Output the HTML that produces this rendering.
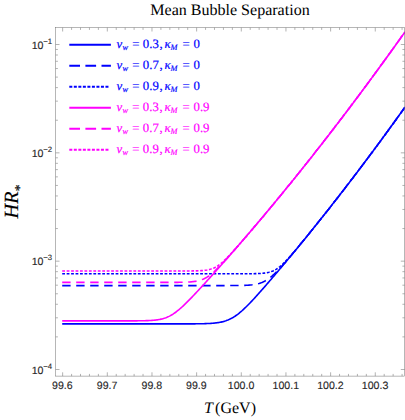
<!DOCTYPE html>
<html><head><meta charset="utf-8"><style>
html,body{margin:0;padding:0;background:#fff;}
svg{display:block}
text{text-rendering:geometricPrecision}
.tk text{font-family:"Liberation Sans",sans-serif;font-size:10.6px;fill:#262626;stroke:#262626;stroke-width:0.12px}
.lg text{font-family:"Liberation Serif",serif;font-size:12.8px;stroke-width:0.18px;paint-order:stroke}
.lg .it{font-style:italic}
.lg .sub{font-size:8.4px}
.ser{font-family:"Liberation Serif",serif;}
</style></head><body>
<svg width="405" height="420" viewBox="0 0 405 420">
<rect width="405" height="420" fill="#fff"/>
<text class="ser" x="230.0" y="14.5" font-size="16.05" text-anchor="middle" fill="#000">Mean Bubble Separation</text>
<clipPath id="c"><rect x="55.7" y="27.7" width="349.3" height="348.40000000000003"/></clipPath>
<g clip-path="url(#c)">
<path d="M62.2 323.90 L63.0 323.90 L64.0 323.90 L65.0 323.90 L66.0 323.90 L67.0 323.90 L68.0 323.90 L69.0 323.90 L70.0 323.90 L71.0 323.90 L72.0 323.90 L73.0 323.90 L74.0 323.90 L75.0 323.90 L76.0 323.90 L77.0 323.90 L78.0 323.90 L79.0 323.90 L80.0 323.90 L81.0 323.90 L82.0 323.90 L83.0 323.90 L84.0 323.90 L85.0 323.90 L86.0 323.90 L87.0 323.90 L88.0 323.90 L89.0 323.90 L90.0 323.90 L91.0 323.90 L92.0 323.90 L93.0 323.90 L94.0 323.90 L95.0 323.90 L96.0 323.90 L97.0 323.90 L98.0 323.90 L99.0 323.90 L100.0 323.90 L101.0 323.90 L102.0 323.90 L103.0 323.90 L104.0 323.90 L105.0 323.90 L106.0 323.90 L107.0 323.90 L108.0 323.90 L109.0 323.90 L110.0 323.90 L111.0 323.90 L112.0 323.90 L113.0 323.90 L114.0 323.90 L115.0 323.90 L116.0 323.90 L117.0 323.90 L118.0 323.90 L119.0 323.90 L120.0 323.90 L121.0 323.90 L122.0 323.90 L123.0 323.90 L124.0 323.90 L125.0 323.90 L126.0 323.90 L127.0 323.90 L128.0 323.90 L129.0 323.90 L130.0 323.90 L131.0 323.90 L132.0 323.90 L133.0 323.90 L134.0 323.90 L135.0 323.90 L136.0 323.90 L137.0 323.90 L138.0 323.90 L139.0 323.90 L140.0 323.90 L141.0 323.90 L142.0 323.90 L143.0 323.90 L144.0 323.90 L145.0 323.90 L146.0 323.90 L147.0 323.90 L148.0 323.90 L149.0 323.90 L150.0 323.90 L151.0 323.90 L152.0 323.90 L153.0 323.90 L154.0 323.90 L155.0 323.90 L156.0 323.90 L157.0 323.90 L158.0 323.90 L159.0 323.90 L160.0 323.90 L161.0 323.90 L162.0 323.90 L163.0 323.90 L164.0 323.90 L165.0 323.90 L166.0 323.90 L167.0 323.90 L168.0 323.90 L169.0 323.90 L170.0 323.90 L171.0 323.90 L172.0 323.90 L173.0 323.90 L174.0 323.89 L175.0 323.89 L176.0 323.89 L177.0 323.89 L178.0 323.89 L179.0 323.89 L180.0 323.89 L181.0 323.89 L182.0 323.89 L183.0 323.88 L184.0 323.88 L185.0 323.88 L186.0 323.88 L187.0 323.87 L188.0 323.87 L189.0 323.87 L190.0 323.86 L191.0 323.86 L192.0 323.85 L193.0 323.84 L194.0 323.84 L195.0 323.83 L196.0 323.82 L197.0 323.81 L198.0 323.79 L199.0 323.78 L200.0 323.76 L201.0 323.75 L202.0 323.73 L203.0 323.70 L204.0 323.68 L205.0 323.65 L206.0 323.61 L207.0 323.57 L208.0 323.53 L209.0 323.48 L210.0 323.43 L211.0 323.37 L212.0 323.30 L213.0 323.22 L214.0 323.13 L215.0 323.03 L216.0 322.91 L217.0 322.78 L218.0 322.64 L219.0 322.48 L220.0 322.30 L221.0 322.10 L222.0 321.88 L223.0 321.64 L224.0 321.37 L225.0 321.07 L226.0 320.74 L227.0 320.37 L228.0 319.98 L229.0 319.55 L230.0 319.09 L231.0 318.59 L232.0 318.05 L233.0 317.48 L234.0 316.86 L235.0 316.22 L236.0 315.53 L237.0 314.81 L238.0 314.06 L239.0 313.27 L240.0 312.45 L241.0 311.60 L242.0 310.73 L243.0 309.82 L244.0 308.90 L245.0 307.95 L246.0 306.98 L247.0 305.99 L248.0 304.99 L249.0 303.97 L250.0 302.93 L251.0 301.89 L252.0 300.83 L253.0 299.75 L254.0 298.67 L255.0 297.59 L256.0 296.49 L257.0 295.38 L258.0 294.27 L259.0 293.15 L260.0 292.03 L261.0 290.90 L262.0 289.77 L263.0 288.63 L264.0 287.49 L265.0 286.35 L266.0 285.20 L267.0 284.05 L268.0 282.89 L269.0 281.74 L270.0 280.58 L271.0 279.41 L272.0 278.25 L273.0 277.08 L274.0 275.91 L275.0 274.74 L276.0 273.56 L277.0 272.39 L278.0 271.21 L279.0 270.03 L280.0 268.84 L281.0 267.66 L282.0 266.47 L283.0 265.28 L284.0 264.09 L285.0 262.90 L286.0 261.71 L287.0 260.51 L288.0 259.31 L289.0 258.11 L290.0 256.91 L291.0 255.71 L292.0 254.50 L293.0 253.30 L294.0 252.09 L295.0 250.88 L296.0 249.67 L297.0 248.45 L298.0 247.24 L299.0 246.02 L300.0 244.80 L301.0 243.58 L302.0 242.36 L303.0 241.13 L304.0 239.91 L305.0 238.68 L306.0 237.45 L307.0 236.22 L308.0 234.98 L309.0 233.75 L310.0 232.51 L311.0 231.27 L312.0 230.03 L313.0 228.79 L314.0 227.55 L315.0 226.30 L316.0 225.06 L317.0 223.81 L318.0 222.56 L319.0 221.30 L320.0 220.05 L321.0 218.80 L322.0 217.54 L323.0 216.28 L324.0 215.02 L325.0 213.75 L326.0 212.49 L327.0 211.22 L328.0 209.96 L329.0 208.69 L330.0 207.42 L331.0 206.14 L332.0 204.87 L333.0 203.59 L334.0 202.31 L335.0 201.03 L336.0 199.75 L337.0 198.47 L338.0 197.18 L339.0 195.90 L340.0 194.61 L341.0 193.32 L342.0 192.02 L343.0 190.73 L344.0 189.44 L345.0 188.14 L346.0 186.84 L347.0 185.54 L348.0 184.24 L349.0 182.93 L350.0 181.62 L351.0 180.32 L352.0 179.01 L353.0 177.70 L354.0 176.38 L355.0 175.07 L356.0 173.75 L357.0 172.43 L358.0 171.11 L359.0 169.79 L360.0 168.47 L361.0 167.14 L362.0 165.82 L363.0 164.49 L364.0 163.16 L365.0 161.83 L366.0 160.49 L367.0 159.16 L368.0 157.82 L369.0 156.48 L370.0 155.14 L371.0 153.80 L372.0 152.45 L373.0 151.11 L374.0 149.76 L375.0 148.41 L376.0 147.06 L377.0 145.71 L378.0 144.35 L379.0 142.99 L380.0 141.64 L381.0 140.28 L382.0 138.92 L383.0 137.55 L384.0 136.19 L385.0 134.82 L386.0 133.45 L387.0 132.08 L388.0 130.71 L389.0 129.34 L390.0 127.96 L391.0 126.58 L392.0 125.20 L393.0 123.82 L394.0 122.44 L395.0 121.06 L396.0 119.67 L397.0 118.28 L398.0 116.89 L399.0 115.50 L400.0 114.11 L401.0 112.72 L402.0 111.32 L403.0 109.92 L404.0 108.52 L405.0 107.12" fill="none" stroke="#0000ff" stroke-width="1.6"/>
<path d="M62.2 285.60 L63.0 285.60 L64.0 285.60 L65.0 285.60 L66.0 285.60 L67.0 285.60 L68.0 285.60 L69.0 285.60 L70.0 285.60 L71.0 285.60 L72.0 285.60 L73.0 285.60 L74.0 285.60 L75.0 285.60 L76.0 285.60 L77.0 285.60 L78.0 285.60 L79.0 285.60 L80.0 285.60 L81.0 285.60 L82.0 285.60 L83.0 285.60 L84.0 285.60 L85.0 285.60 L86.0 285.60 L87.0 285.60 L88.0 285.60 L89.0 285.60 L90.0 285.60 L91.0 285.60 L92.0 285.60 L93.0 285.60 L94.0 285.60 L95.0 285.60 L96.0 285.60 L97.0 285.60 L98.0 285.60 L99.0 285.60 L100.0 285.60 L101.0 285.60 L102.0 285.60 L103.0 285.60 L104.0 285.60 L105.0 285.60 L106.0 285.60 L107.0 285.60 L108.0 285.60 L109.0 285.60 L110.0 285.60 L111.0 285.60 L112.0 285.60 L113.0 285.60 L114.0 285.60 L115.0 285.60 L116.0 285.60 L117.0 285.60 L118.0 285.60 L119.0 285.60 L120.0 285.60 L121.0 285.60 L122.0 285.60 L123.0 285.60 L124.0 285.60 L125.0 285.60 L126.0 285.60 L127.0 285.60 L128.0 285.60 L129.0 285.60 L130.0 285.60 L131.0 285.60 L132.0 285.60 L133.0 285.60 L134.0 285.60 L135.0 285.60 L136.0 285.60 L137.0 285.60 L138.0 285.60 L139.0 285.60 L140.0 285.60 L141.0 285.60 L142.0 285.60 L143.0 285.60 L144.0 285.60 L145.0 285.60 L146.0 285.60 L147.0 285.60 L148.0 285.60 L149.0 285.60 L150.0 285.60 L151.0 285.60 L152.0 285.60 L153.0 285.60 L154.0 285.60 L155.0 285.60 L156.0 285.60 L157.0 285.60 L158.0 285.60 L159.0 285.60 L160.0 285.60 L161.0 285.60 L162.0 285.60 L163.0 285.60 L164.0 285.60 L165.0 285.60 L166.0 285.60 L167.0 285.60 L168.0 285.60 L169.0 285.60 L170.0 285.60 L171.0 285.60 L172.0 285.60 L173.0 285.60 L174.0 285.60 L175.0 285.60 L176.0 285.60 L177.0 285.60 L178.0 285.60 L179.0 285.60 L180.0 285.60 L181.0 285.60 L182.0 285.60 L183.0 285.60 L184.0 285.60 L185.0 285.60 L186.0 285.60 L187.0 285.60 L188.0 285.60 L189.0 285.60 L190.0 285.60 L191.0 285.60 L192.0 285.60 L193.0 285.60 L194.0 285.60 L195.0 285.60 L196.0 285.60 L197.0 285.60 L198.0 285.60 L199.0 285.60 L200.0 285.60 L201.0 285.60 L202.0 285.60 L203.0 285.60 L204.0 285.60 L205.0 285.60 L206.0 285.60 L207.0 285.60 L208.0 285.60 L209.0 285.60 L210.0 285.60 L211.0 285.60 L212.0 285.60 L213.0 285.60 L214.0 285.60 L215.0 285.60 L216.0 285.60 L217.0 285.60 L218.0 285.60 L219.0 285.59 L220.0 285.59 L221.0 285.59 L222.0 285.59 L223.0 285.59 L224.0 285.59 L225.0 285.59 L226.0 285.59 L227.0 285.58 L228.0 285.58 L229.0 285.58 L230.0 285.57 L231.0 285.57 L232.0 285.56 L233.0 285.56 L234.0 285.55 L235.0 285.54 L236.0 285.53 L237.0 285.52 L238.0 285.51 L239.0 285.49 L240.0 285.48 L241.0 285.45 L242.0 285.43 L243.0 285.40 L244.0 285.37 L245.0 285.33 L246.0 285.29 L247.0 285.24 L248.0 285.18 L249.0 285.11 L250.0 285.03 L251.0 284.93 L252.0 284.83 L253.0 284.70 L254.0 284.56 L255.0 284.40 L256.0 284.21 L257.0 283.99 L258.0 283.75 L259.0 283.48 L260.0 283.16 L261.0 282.82 L262.0 282.43 L263.0 282.00 L264.0 281.52 L265.0 281.00 L266.0 280.43 L267.0 279.81 L268.0 279.15 L269.0 278.44 L270.0 277.68 L271.0 276.88 L272.0 276.04 L273.0 275.16 L274.0 274.25 L275.0 273.30 L276.0 272.33 L277.0 271.32 L278.0 270.29 L279.0 269.24 L280.0 268.17 L281.0 267.09 L282.0 265.98 L283.0 264.87 L284.0 263.74 L285.0 262.60 L286.0 261.45 L287.0 260.29 L288.0 259.13 L289.0 257.96 L290.0 256.78 L291.0 255.60 L292.0 254.41 L293.0 253.22 L294.0 252.02 L295.0 250.82 L296.0 249.62 L297.0 248.41 L298.0 247.20 L299.0 245.99 L300.0 244.77 L301.0 243.56 L302.0 242.34 L303.0 241.12 L304.0 239.89 L305.0 238.67 L306.0 237.44 L307.0 236.21 L308.0 234.98 L309.0 233.74 L310.0 232.51 L311.0 231.27 L312.0 230.03 L313.0 228.79 L314.0 227.55 L315.0 226.30 L316.0 225.05 L317.0 223.81 L318.0 222.56 L319.0 221.30 L320.0 220.05 L321.0 218.79 L322.0 217.54 L323.0 216.28 L324.0 215.02 L325.0 213.75 L326.0 212.49 L327.0 211.22 L328.0 209.96 L329.0 208.69 L330.0 207.42 L331.0 206.14 L332.0 204.87 L333.0 203.59 L334.0 202.31 L335.0 201.03 L336.0 199.75 L337.0 198.47 L338.0 197.18 L339.0 195.90 L340.0 194.61 L341.0 193.32 L342.0 192.02 L343.0 190.73 L344.0 189.44 L345.0 188.14 L346.0 186.84 L347.0 185.54 L348.0 184.24 L349.0 182.93 L350.0 181.62 L351.0 180.32 L352.0 179.01 L353.0 177.70 L354.0 176.38 L355.0 175.07 L356.0 173.75 L357.0 172.43 L358.0 171.11 L359.0 169.79 L360.0 168.47 L361.0 167.14 L362.0 165.82 L363.0 164.49 L364.0 163.16 L365.0 161.83 L366.0 160.49 L367.0 159.16 L368.0 157.82 L369.0 156.48 L370.0 155.14 L371.0 153.80 L372.0 152.45 L373.0 151.11 L374.0 149.76 L375.0 148.41 L376.0 147.06 L377.0 145.71 L378.0 144.35 L379.0 142.99 L380.0 141.64 L381.0 140.28 L382.0 138.92 L383.0 137.55 L384.0 136.19 L385.0 134.82 L386.0 133.45 L387.0 132.08 L388.0 130.71 L389.0 129.34 L390.0 127.96 L391.0 126.58 L392.0 125.20 L393.0 123.82 L394.0 122.44 L395.0 121.06 L396.0 119.67 L397.0 118.28 L398.0 116.89 L399.0 115.50 L400.0 114.11 L401.0 112.72 L402.0 111.32 L403.0 109.92 L404.0 108.52 L405.0 107.12" fill="none" stroke="#0000ff" stroke-width="1.6" stroke-dasharray="8.4 5.6"/>
<path d="M62.2 273.80 L63.0 273.80 L64.0 273.80 L65.0 273.80 L66.0 273.80 L67.0 273.80 L68.0 273.80 L69.0 273.80 L70.0 273.80 L71.0 273.80 L72.0 273.80 L73.0 273.80 L74.0 273.80 L75.0 273.80 L76.0 273.80 L77.0 273.80 L78.0 273.80 L79.0 273.80 L80.0 273.80 L81.0 273.80 L82.0 273.80 L83.0 273.80 L84.0 273.80 L85.0 273.80 L86.0 273.80 L87.0 273.80 L88.0 273.80 L89.0 273.80 L90.0 273.80 L91.0 273.80 L92.0 273.80 L93.0 273.80 L94.0 273.80 L95.0 273.80 L96.0 273.80 L97.0 273.80 L98.0 273.80 L99.0 273.80 L100.0 273.80 L101.0 273.80 L102.0 273.80 L103.0 273.80 L104.0 273.80 L105.0 273.80 L106.0 273.80 L107.0 273.80 L108.0 273.80 L109.0 273.80 L110.0 273.80 L111.0 273.80 L112.0 273.80 L113.0 273.80 L114.0 273.80 L115.0 273.80 L116.0 273.80 L117.0 273.80 L118.0 273.80 L119.0 273.80 L120.0 273.80 L121.0 273.80 L122.0 273.80 L123.0 273.80 L124.0 273.80 L125.0 273.80 L126.0 273.80 L127.0 273.80 L128.0 273.80 L129.0 273.80 L130.0 273.80 L131.0 273.80 L132.0 273.80 L133.0 273.80 L134.0 273.80 L135.0 273.80 L136.0 273.80 L137.0 273.80 L138.0 273.80 L139.0 273.80 L140.0 273.80 L141.0 273.80 L142.0 273.80 L143.0 273.80 L144.0 273.80 L145.0 273.80 L146.0 273.80 L147.0 273.80 L148.0 273.80 L149.0 273.80 L150.0 273.80 L151.0 273.80 L152.0 273.80 L153.0 273.80 L154.0 273.80 L155.0 273.80 L156.0 273.80 L157.0 273.80 L158.0 273.80 L159.0 273.80 L160.0 273.80 L161.0 273.80 L162.0 273.80 L163.0 273.80 L164.0 273.80 L165.0 273.80 L166.0 273.80 L167.0 273.80 L168.0 273.80 L169.0 273.80 L170.0 273.80 L171.0 273.80 L172.0 273.80 L173.0 273.80 L174.0 273.80 L175.0 273.80 L176.0 273.80 L177.0 273.80 L178.0 273.80 L179.0 273.80 L180.0 273.80 L181.0 273.80 L182.0 273.80 L183.0 273.80 L184.0 273.80 L185.0 273.80 L186.0 273.80 L187.0 273.80 L188.0 273.80 L189.0 273.80 L190.0 273.80 L191.0 273.80 L192.0 273.80 L193.0 273.80 L194.0 273.80 L195.0 273.80 L196.0 273.80 L197.0 273.80 L198.0 273.80 L199.0 273.80 L200.0 273.80 L201.0 273.80 L202.0 273.80 L203.0 273.80 L204.0 273.80 L205.0 273.80 L206.0 273.80 L207.0 273.80 L208.0 273.80 L209.0 273.80 L210.0 273.80 L211.0 273.80 L212.0 273.80 L213.0 273.80 L214.0 273.80 L215.0 273.80 L216.0 273.80 L217.0 273.80 L218.0 273.80 L219.0 273.80 L220.0 273.80 L221.0 273.80 L222.0 273.80 L223.0 273.80 L224.0 273.80 L225.0 273.80 L226.0 273.80 L227.0 273.80 L228.0 273.80 L229.0 273.80 L230.0 273.80 L231.0 273.80 L232.0 273.80 L233.0 273.80 L234.0 273.80 L235.0 273.80 L236.0 273.80 L237.0 273.79 L238.0 273.79 L239.0 273.79 L240.0 273.79 L241.0 273.79 L242.0 273.79 L243.0 273.78 L244.0 273.78 L245.0 273.78 L246.0 273.77 L247.0 273.77 L248.0 273.76 L249.0 273.76 L250.0 273.75 L251.0 273.74 L252.0 273.72 L253.0 273.71 L254.0 273.69 L255.0 273.67 L256.0 273.64 L257.0 273.61 L258.0 273.57 L259.0 273.53 L260.0 273.48 L261.0 273.41 L262.0 273.34 L263.0 273.25 L264.0 273.14 L265.0 273.02 L266.0 272.87 L267.0 272.70 L268.0 272.49 L269.0 272.26 L270.0 271.98 L271.0 271.67 L272.0 271.31 L273.0 270.90 L274.0 270.43 L275.0 269.92 L276.0 269.35 L277.0 268.72 L278.0 268.04 L279.0 267.30 L280.0 266.51 L281.0 265.67 L282.0 264.78 L283.0 263.86 L284.0 262.89 L285.0 261.89 L286.0 260.86 L287.0 259.80 L288.0 258.72 L289.0 257.62 L290.0 256.50 L291.0 255.37 L292.0 254.22 L293.0 253.06 L294.0 251.90 L295.0 250.72 L296.0 249.53 L297.0 248.34 L298.0 247.15 L299.0 245.95 L300.0 244.74 L301.0 243.53 L302.0 242.32 L303.0 241.10 L304.0 239.88 L305.0 238.65 L306.0 237.43 L307.0 236.20 L308.0 234.97 L309.0 233.74 L310.0 232.50 L311.0 231.27 L312.0 230.03 L313.0 228.79 L314.0 227.54 L315.0 226.30 L316.0 225.05 L317.0 223.81 L318.0 222.56 L319.0 221.30 L320.0 220.05 L321.0 218.79 L322.0 217.54 L323.0 216.28 L324.0 215.02 L325.0 213.75 L326.0 212.49 L327.0 211.22 L328.0 209.96 L329.0 208.69 L330.0 207.42 L331.0 206.14 L332.0 204.87 L333.0 203.59 L334.0 202.31 L335.0 201.03 L336.0 199.75 L337.0 198.47 L338.0 197.18 L339.0 195.90 L340.0 194.61 L341.0 193.32 L342.0 192.02 L343.0 190.73 L344.0 189.44 L345.0 188.14 L346.0 186.84 L347.0 185.54 L348.0 184.24 L349.0 182.93 L350.0 181.62 L351.0 180.32 L352.0 179.01 L353.0 177.70 L354.0 176.38 L355.0 175.07 L356.0 173.75 L357.0 172.43 L358.0 171.11 L359.0 169.79 L360.0 168.47 L361.0 167.14 L362.0 165.82 L363.0 164.49 L364.0 163.16 L365.0 161.83 L366.0 160.49 L367.0 159.16 L368.0 157.82 L369.0 156.48 L370.0 155.14 L371.0 153.80 L372.0 152.45 L373.0 151.11 L374.0 149.76 L375.0 148.41 L376.0 147.06 L377.0 145.71 L378.0 144.35 L379.0 142.99 L380.0 141.64 L381.0 140.28 L382.0 138.92 L383.0 137.55 L384.0 136.19 L385.0 134.82 L386.0 133.45 L387.0 132.08 L388.0 130.71 L389.0 129.34 L390.0 127.96 L391.0 126.58 L392.0 125.20 L393.0 123.82 L394.0 122.44 L395.0 121.06 L396.0 119.67 L397.0 118.28 L398.0 116.89 L399.0 115.50 L400.0 114.11 L401.0 112.72 L402.0 111.32 L403.0 109.92 L404.0 108.52 L405.0 107.12" fill="none" stroke="#0000ff" stroke-width="1.6" stroke-dasharray="2.8 1.65"/>
<path d="M62.2 320.90 L63.0 320.90 L64.0 320.90 L65.0 320.90 L66.0 320.90 L67.0 320.90 L68.0 320.90 L69.0 320.90 L70.0 320.90 L71.0 320.90 L72.0 320.90 L73.0 320.90 L74.0 320.90 L75.0 320.90 L76.0 320.90 L77.0 320.90 L78.0 320.90 L79.0 320.90 L80.0 320.90 L81.0 320.90 L82.0 320.90 L83.0 320.90 L84.0 320.90 L85.0 320.90 L86.0 320.90 L87.0 320.90 L88.0 320.90 L89.0 320.90 L90.0 320.90 L91.0 320.90 L92.0 320.90 L93.0 320.90 L94.0 320.90 L95.0 320.90 L96.0 320.90 L97.0 320.90 L98.0 320.90 L99.0 320.90 L100.0 320.90 L101.0 320.90 L102.0 320.90 L103.0 320.90 L104.0 320.90 L105.0 320.90 L106.0 320.90 L107.0 320.90 L108.0 320.90 L109.0 320.90 L110.0 320.90 L111.0 320.90 L112.0 320.90 L113.0 320.90 L114.0 320.90 L115.0 320.90 L116.0 320.90 L117.0 320.90 L118.0 320.90 L119.0 320.89 L120.0 320.89 L121.0 320.89 L122.0 320.89 L123.0 320.89 L124.0 320.89 L125.0 320.89 L126.0 320.89 L127.0 320.88 L128.0 320.88 L129.0 320.88 L130.0 320.87 L131.0 320.87 L132.0 320.87 L133.0 320.86 L134.0 320.86 L135.0 320.85 L136.0 320.84 L137.0 320.83 L138.0 320.82 L139.0 320.81 L140.0 320.80 L141.0 320.79 L142.0 320.77 L143.0 320.75 L144.0 320.73 L145.0 320.70 L146.0 320.67 L147.0 320.64 L148.0 320.60 L149.0 320.55 L150.0 320.50 L151.0 320.44 L152.0 320.38 L153.0 320.30 L154.0 320.21 L155.0 320.11 L156.0 320.00 L157.0 319.87 L158.0 319.72 L159.0 319.55 L160.0 319.37 L161.0 319.15 L162.0 318.92 L163.0 318.65 L164.0 318.36 L165.0 318.03 L166.0 317.67 L167.0 317.28 L168.0 316.85 L169.0 316.38 L170.0 315.87 L171.0 315.32 L172.0 314.73 L173.0 314.11 L174.0 313.44 L175.0 312.74 L176.0 312.01 L177.0 311.24 L178.0 310.44 L179.0 309.62 L180.0 308.76 L181.0 307.88 L182.0 306.98 L183.0 306.05 L184.0 305.11 L185.0 304.15 L186.0 303.18 L187.0 302.19 L188.0 301.19 L189.0 300.17 L190.0 299.15 L191.0 298.12 L192.0 297.08 L193.0 296.04 L194.0 294.98 L195.0 293.92 L196.0 292.86 L197.0 291.79 L198.0 290.72 L199.0 289.64 L200.0 288.56 L201.0 287.48 L202.0 286.39 L203.0 285.30 L204.0 284.21 L205.0 283.11 L206.0 282.01 L207.0 280.91 L208.0 279.81 L209.0 278.71 L210.0 277.60 L211.0 276.49 L212.0 275.38 L213.0 274.27 L214.0 273.16 L215.0 272.04 L216.0 270.93 L217.0 269.81 L218.0 268.69 L219.0 267.56 L220.0 266.44 L221.0 265.31 L222.0 264.19 L223.0 263.06 L224.0 261.93 L225.0 260.80 L226.0 259.66 L227.0 258.53 L228.0 257.39 L229.0 256.25 L230.0 255.11 L231.0 253.97 L232.0 252.83 L233.0 251.69 L234.0 250.54 L235.0 249.39 L236.0 248.24 L237.0 247.09 L238.0 245.94 L239.0 244.79 L240.0 243.63 L241.0 242.48 L242.0 241.32 L243.0 240.16 L244.0 239.00 L245.0 237.83 L246.0 236.67 L247.0 235.50 L248.0 234.33 L249.0 233.17 L250.0 231.99 L251.0 230.82 L252.0 229.65 L253.0 228.47 L254.0 227.30 L255.0 226.12 L256.0 224.94 L257.0 223.76 L258.0 222.57 L259.0 221.39 L260.0 220.20 L261.0 219.02 L262.0 217.83 L263.0 216.64 L264.0 215.44 L265.0 214.25 L266.0 213.06 L267.0 211.86 L268.0 210.66 L269.0 209.46 L270.0 208.26 L271.0 207.06 L272.0 205.85 L273.0 204.65 L274.0 203.44 L275.0 202.23 L276.0 201.02 L277.0 199.81 L278.0 198.59 L279.0 197.38 L280.0 196.16 L281.0 194.94 L282.0 193.72 L283.0 192.50 L284.0 191.28 L285.0 190.05 L286.0 188.83 L287.0 187.60 L288.0 186.37 L289.0 185.14 L290.0 183.91 L291.0 182.67 L292.0 181.44 L293.0 180.20 L294.0 178.96 L295.0 177.72 L296.0 176.48 L297.0 175.24 L298.0 173.99 L299.0 172.75 L300.0 171.50 L301.0 170.25 L302.0 169.00 L303.0 167.75 L304.0 166.49 L305.0 165.24 L306.0 163.98 L307.0 162.72 L308.0 161.46 L309.0 160.20 L310.0 158.94 L311.0 157.67 L312.0 156.41 L313.0 155.14 L314.0 153.87 L315.0 152.60 L316.0 151.33 L317.0 150.05 L318.0 148.78 L319.0 147.50 L320.0 146.22 L321.0 144.94 L322.0 143.66 L323.0 142.38 L324.0 141.09 L325.0 139.81 L326.0 138.52 L327.0 137.23 L328.0 135.94 L329.0 134.65 L330.0 133.35 L331.0 132.06 L332.0 130.76 L333.0 129.46 L334.0 128.16 L335.0 126.86 L336.0 125.56 L337.0 124.26 L338.0 122.95 L339.0 121.64 L340.0 120.33 L341.0 119.02 L342.0 117.71 L343.0 116.40 L344.0 115.08 L345.0 113.76 L346.0 112.44 L347.0 111.12 L348.0 109.80 L349.0 108.48 L350.0 107.15 L351.0 105.83 L352.0 104.50 L353.0 103.17 L354.0 101.84 L355.0 100.51 L356.0 99.17 L357.0 97.84 L358.0 96.50 L359.0 95.16 L360.0 93.82 L361.0 92.48 L362.0 91.14 L363.0 89.79 L364.0 88.45 L365.0 87.10 L366.0 85.75 L367.0 84.40 L368.0 83.05 L369.0 81.69 L370.0 80.34 L371.0 78.98 L372.0 77.62 L373.0 76.26 L374.0 74.90 L375.0 73.54 L376.0 72.17 L377.0 70.81 L378.0 69.44 L379.0 68.07 L380.0 66.70 L381.0 65.33 L382.0 63.95 L383.0 62.58 L384.0 61.20 L385.0 59.82 L386.0 58.44 L387.0 57.06 L388.0 55.68 L389.0 54.29 L390.0 52.91 L391.0 51.52 L392.0 50.13 L393.0 48.74 L394.0 47.35 L395.0 45.95 L396.0 44.56 L397.0 43.16 L398.0 41.76 L399.0 40.36 L400.0 38.96 L401.0 37.56 L402.0 36.15 L403.0 34.75 L404.0 33.34 L405.0 31.93" fill="none" stroke="#ff00ff" stroke-width="1.6"/>
<path d="M62.2 282.40 L63.0 282.40 L64.0 282.40 L65.0 282.40 L66.0 282.40 L67.0 282.40 L68.0 282.40 L69.0 282.40 L70.0 282.40 L71.0 282.40 L72.0 282.40 L73.0 282.40 L74.0 282.40 L75.0 282.40 L76.0 282.40 L77.0 282.40 L78.0 282.40 L79.0 282.40 L80.0 282.40 L81.0 282.40 L82.0 282.40 L83.0 282.40 L84.0 282.40 L85.0 282.40 L86.0 282.40 L87.0 282.40 L88.0 282.40 L89.0 282.40 L90.0 282.40 L91.0 282.40 L92.0 282.40 L93.0 282.40 L94.0 282.40 L95.0 282.40 L96.0 282.40 L97.0 282.40 L98.0 282.40 L99.0 282.40 L100.0 282.40 L101.0 282.40 L102.0 282.40 L103.0 282.40 L104.0 282.40 L105.0 282.40 L106.0 282.40 L107.0 282.40 L108.0 282.40 L109.0 282.40 L110.0 282.40 L111.0 282.40 L112.0 282.40 L113.0 282.40 L114.0 282.40 L115.0 282.40 L116.0 282.40 L117.0 282.40 L118.0 282.40 L119.0 282.40 L120.0 282.40 L121.0 282.40 L122.0 282.40 L123.0 282.40 L124.0 282.40 L125.0 282.40 L126.0 282.40 L127.0 282.40 L128.0 282.40 L129.0 282.40 L130.0 282.40 L131.0 282.40 L132.0 282.40 L133.0 282.40 L134.0 282.40 L135.0 282.40 L136.0 282.40 L137.0 282.40 L138.0 282.40 L139.0 282.40 L140.0 282.40 L141.0 282.40 L142.0 282.40 L143.0 282.40 L144.0 282.40 L145.0 282.40 L146.0 282.40 L147.0 282.40 L148.0 282.40 L149.0 282.40 L150.0 282.40 L151.0 282.40 L152.0 282.40 L153.0 282.40 L154.0 282.40 L155.0 282.40 L156.0 282.40 L157.0 282.40 L158.0 282.40 L159.0 282.40 L160.0 282.40 L161.0 282.40 L162.0 282.39 L163.0 282.39 L164.0 282.39 L165.0 282.39 L166.0 282.39 L167.0 282.39 L168.0 282.39 L169.0 282.38 L170.0 282.38 L171.0 282.38 L172.0 282.37 L173.0 282.37 L174.0 282.37 L175.0 282.36 L176.0 282.35 L177.0 282.34 L178.0 282.33 L179.0 282.32 L180.0 282.31 L181.0 282.29 L182.0 282.27 L183.0 282.25 L184.0 282.23 L185.0 282.19 L186.0 282.16 L187.0 282.12 L188.0 282.07 L189.0 282.01 L190.0 281.94 L191.0 281.86 L192.0 281.77 L193.0 281.66 L194.0 281.54 L195.0 281.39 L196.0 281.23 L197.0 281.03 L198.0 280.81 L199.0 280.56 L200.0 280.28 L201.0 279.95 L202.0 279.59 L203.0 279.19 L204.0 278.74 L205.0 278.24 L206.0 277.70 L207.0 277.11 L208.0 276.47 L209.0 275.79 L210.0 275.06 L211.0 274.29 L212.0 273.48 L213.0 272.63 L214.0 271.75 L215.0 270.83 L216.0 269.89 L217.0 268.93 L218.0 267.94 L219.0 266.93 L220.0 265.90 L221.0 264.86 L222.0 263.80 L223.0 262.73 L224.0 261.65 L225.0 260.56 L226.0 259.47 L227.0 258.36 L228.0 257.25 L229.0 256.14 L230.0 255.02 L231.0 253.89 L232.0 252.76 L233.0 251.63 L234.0 250.49 L235.0 249.35 L236.0 248.21 L237.0 247.06 L238.0 245.92 L239.0 244.77 L240.0 243.61 L241.0 242.46 L242.0 241.30 L243.0 240.15 L244.0 238.99 L245.0 237.83 L246.0 236.66 L247.0 235.50 L248.0 234.33 L249.0 233.16 L250.0 231.99 L251.0 230.82 L252.0 229.65 L253.0 228.47 L254.0 227.30 L255.0 226.12 L256.0 224.94 L257.0 223.76 L258.0 222.57 L259.0 221.39 L260.0 220.20 L261.0 219.02 L262.0 217.83 L263.0 216.64 L264.0 215.44 L265.0 214.25 L266.0 213.06 L267.0 211.86 L268.0 210.66 L269.0 209.46 L270.0 208.26 L271.0 207.06 L272.0 205.85 L273.0 204.65 L274.0 203.44 L275.0 202.23 L276.0 201.02 L277.0 199.81 L278.0 198.59 L279.0 197.38 L280.0 196.16 L281.0 194.94 L282.0 193.72 L283.0 192.50 L284.0 191.28 L285.0 190.05 L286.0 188.83 L287.0 187.60 L288.0 186.37 L289.0 185.14 L290.0 183.91 L291.0 182.67 L292.0 181.44 L293.0 180.20 L294.0 178.96 L295.0 177.72 L296.0 176.48 L297.0 175.24 L298.0 173.99 L299.0 172.75 L300.0 171.50 L301.0 170.25 L302.0 169.00 L303.0 167.75 L304.0 166.49 L305.0 165.24 L306.0 163.98 L307.0 162.72 L308.0 161.46 L309.0 160.20 L310.0 158.94 L311.0 157.67 L312.0 156.41 L313.0 155.14 L314.0 153.87 L315.0 152.60 L316.0 151.33 L317.0 150.05 L318.0 148.78 L319.0 147.50 L320.0 146.22 L321.0 144.94 L322.0 143.66 L323.0 142.38 L324.0 141.09 L325.0 139.81 L326.0 138.52 L327.0 137.23 L328.0 135.94 L329.0 134.65 L330.0 133.35 L331.0 132.06 L332.0 130.76 L333.0 129.46 L334.0 128.16 L335.0 126.86 L336.0 125.56 L337.0 124.26 L338.0 122.95 L339.0 121.64 L340.0 120.33 L341.0 119.02 L342.0 117.71 L343.0 116.40 L344.0 115.08 L345.0 113.76 L346.0 112.44 L347.0 111.12 L348.0 109.80 L349.0 108.48 L350.0 107.15 L351.0 105.83 L352.0 104.50 L353.0 103.17 L354.0 101.84 L355.0 100.51 L356.0 99.17 L357.0 97.84 L358.0 96.50 L359.0 95.16 L360.0 93.82 L361.0 92.48 L362.0 91.14 L363.0 89.79 L364.0 88.45 L365.0 87.10 L366.0 85.75 L367.0 84.40 L368.0 83.05 L369.0 81.69 L370.0 80.34 L371.0 78.98 L372.0 77.62 L373.0 76.26 L374.0 74.90 L375.0 73.54 L376.0 72.17 L377.0 70.81 L378.0 69.44 L379.0 68.07 L380.0 66.70 L381.0 65.33 L382.0 63.95 L383.0 62.58 L384.0 61.20 L385.0 59.82 L386.0 58.44 L387.0 57.06 L388.0 55.68 L389.0 54.29 L390.0 52.91 L391.0 51.52 L392.0 50.13 L393.0 48.74 L394.0 47.35 L395.0 45.95 L396.0 44.56 L397.0 43.16 L398.0 41.76 L399.0 40.36 L400.0 38.96 L401.0 37.56 L402.0 36.15 L403.0 34.75 L404.0 33.34 L405.0 31.93" fill="none" stroke="#ff00ff" stroke-width="1.6" stroke-dasharray="8.4 5.6"/>
<path d="M62.2 271.00 L63.0 271.00 L64.0 271.00 L65.0 271.00 L66.0 271.00 L67.0 271.00 L68.0 271.00 L69.0 271.00 L70.0 271.00 L71.0 271.00 L72.0 271.00 L73.0 271.00 L74.0 271.00 L75.0 271.00 L76.0 271.00 L77.0 271.00 L78.0 271.00 L79.0 271.00 L80.0 271.00 L81.0 271.00 L82.0 271.00 L83.0 271.00 L84.0 271.00 L85.0 271.00 L86.0 271.00 L87.0 271.00 L88.0 271.00 L89.0 271.00 L90.0 271.00 L91.0 271.00 L92.0 271.00 L93.0 271.00 L94.0 271.00 L95.0 271.00 L96.0 271.00 L97.0 271.00 L98.0 271.00 L99.0 271.00 L100.0 271.00 L101.0 271.00 L102.0 271.00 L103.0 271.00 L104.0 271.00 L105.0 271.00 L106.0 271.00 L107.0 271.00 L108.0 271.00 L109.0 271.00 L110.0 271.00 L111.0 271.00 L112.0 271.00 L113.0 271.00 L114.0 271.00 L115.0 271.00 L116.0 271.00 L117.0 271.00 L118.0 271.00 L119.0 271.00 L120.0 271.00 L121.0 271.00 L122.0 271.00 L123.0 271.00 L124.0 271.00 L125.0 271.00 L126.0 271.00 L127.0 271.00 L128.0 271.00 L129.0 271.00 L130.0 271.00 L131.0 271.00 L132.0 271.00 L133.0 271.00 L134.0 271.00 L135.0 271.00 L136.0 271.00 L137.0 271.00 L138.0 271.00 L139.0 271.00 L140.0 271.00 L141.0 271.00 L142.0 271.00 L143.0 271.00 L144.0 271.00 L145.0 271.00 L146.0 271.00 L147.0 271.00 L148.0 271.00 L149.0 271.00 L150.0 271.00 L151.0 271.00 L152.0 271.00 L153.0 271.00 L154.0 271.00 L155.0 271.00 L156.0 271.00 L157.0 271.00 L158.0 271.00 L159.0 271.00 L160.0 271.00 L161.0 271.00 L162.0 271.00 L163.0 271.00 L164.0 271.00 L165.0 271.00 L166.0 271.00 L167.0 271.00 L168.0 271.00 L169.0 271.00 L170.0 271.00 L171.0 271.00 L172.0 271.00 L173.0 271.00 L174.0 271.00 L175.0 271.00 L176.0 271.00 L177.0 271.00 L178.0 270.99 L179.0 270.99 L180.0 270.99 L181.0 270.99 L182.0 270.99 L183.0 270.99 L184.0 270.98 L185.0 270.98 L186.0 270.98 L187.0 270.97 L188.0 270.97 L189.0 270.96 L190.0 270.95 L191.0 270.95 L192.0 270.93 L193.0 270.92 L194.0 270.91 L195.0 270.89 L196.0 270.86 L197.0 270.84 L198.0 270.80 L199.0 270.76 L200.0 270.72 L201.0 270.66 L202.0 270.59 L203.0 270.51 L204.0 270.41 L205.0 270.30 L206.0 270.17 L207.0 270.01 L208.0 269.82 L209.0 269.60 L210.0 269.35 L211.0 269.06 L212.0 268.72 L213.0 268.34 L214.0 267.91 L215.0 267.43 L216.0 266.89 L217.0 266.30 L218.0 265.66 L219.0 264.97 L220.0 264.22 L221.0 263.43 L222.0 262.59 L223.0 261.71 L224.0 260.79 L225.0 259.85 L226.0 258.87 L227.0 257.87 L228.0 256.84 L229.0 255.80 L230.0 254.73 L231.0 253.66 L232.0 252.57 L233.0 251.47 L234.0 250.36 L235.0 249.25 L236.0 248.12 L237.0 246.99 L238.0 245.86 L239.0 244.72 L240.0 243.58 L241.0 242.43 L242.0 241.28 L243.0 240.13 L244.0 238.97 L245.0 237.81 L246.0 236.65 L247.0 235.49 L248.0 234.32 L249.0 233.16 L250.0 231.99 L251.0 230.82 L252.0 229.64 L253.0 228.47 L254.0 227.29 L255.0 226.12 L256.0 224.94 L257.0 223.76 L258.0 222.57 L259.0 221.39 L260.0 220.20 L261.0 219.02 L262.0 217.83 L263.0 216.64 L264.0 215.44 L265.0 214.25 L266.0 213.06 L267.0 211.86 L268.0 210.66 L269.0 209.46 L270.0 208.26 L271.0 207.06 L272.0 205.85 L273.0 204.65 L274.0 203.44 L275.0 202.23 L276.0 201.02 L277.0 199.81 L278.0 198.59 L279.0 197.38 L280.0 196.16 L281.0 194.94 L282.0 193.72 L283.0 192.50 L284.0 191.28 L285.0 190.05 L286.0 188.83 L287.0 187.60 L288.0 186.37 L289.0 185.14 L290.0 183.91 L291.0 182.67 L292.0 181.44 L293.0 180.20 L294.0 178.96 L295.0 177.72 L296.0 176.48 L297.0 175.24 L298.0 173.99 L299.0 172.75 L300.0 171.50 L301.0 170.25 L302.0 169.00 L303.0 167.75 L304.0 166.49 L305.0 165.24 L306.0 163.98 L307.0 162.72 L308.0 161.46 L309.0 160.20 L310.0 158.94 L311.0 157.67 L312.0 156.41 L313.0 155.14 L314.0 153.87 L315.0 152.60 L316.0 151.33 L317.0 150.05 L318.0 148.78 L319.0 147.50 L320.0 146.22 L321.0 144.94 L322.0 143.66 L323.0 142.38 L324.0 141.09 L325.0 139.81 L326.0 138.52 L327.0 137.23 L328.0 135.94 L329.0 134.65 L330.0 133.35 L331.0 132.06 L332.0 130.76 L333.0 129.46 L334.0 128.16 L335.0 126.86 L336.0 125.56 L337.0 124.26 L338.0 122.95 L339.0 121.64 L340.0 120.33 L341.0 119.02 L342.0 117.71 L343.0 116.40 L344.0 115.08 L345.0 113.76 L346.0 112.44 L347.0 111.12 L348.0 109.80 L349.0 108.48 L350.0 107.15 L351.0 105.83 L352.0 104.50 L353.0 103.17 L354.0 101.84 L355.0 100.51 L356.0 99.17 L357.0 97.84 L358.0 96.50 L359.0 95.16 L360.0 93.82 L361.0 92.48 L362.0 91.14 L363.0 89.79 L364.0 88.45 L365.0 87.10 L366.0 85.75 L367.0 84.40 L368.0 83.05 L369.0 81.69 L370.0 80.34 L371.0 78.98 L372.0 77.62 L373.0 76.26 L374.0 74.90 L375.0 73.54 L376.0 72.17 L377.0 70.81 L378.0 69.44 L379.0 68.07 L380.0 66.70 L381.0 65.33 L382.0 63.95 L383.0 62.58 L384.0 61.20 L385.0 59.82 L386.0 58.44 L387.0 57.06 L388.0 55.68 L389.0 54.29 L390.0 52.91 L391.0 51.52 L392.0 50.13 L393.0 48.74 L394.0 47.35 L395.0 45.95 L396.0 44.56 L397.0 43.16 L398.0 41.76 L399.0 40.36 L400.0 38.96 L401.0 37.56 L402.0 36.15 L403.0 34.75 L404.0 33.34 L405.0 31.93" fill="none" stroke="#ff00ff" stroke-width="1.6" stroke-dasharray="2.8 1.65"/>
</g>
<rect x="55.7" y="27.7" width="348.90000000000003" height="348.40000000000003" fill="none" stroke="#6e6e6e" stroke-width="0.5"/>
<path d="M62.65 376.10L62.65 372.30M62.65 27.70L62.65 31.50M71.58 376.10L71.58 373.90M71.58 27.70L71.58 29.90M80.51 376.10L80.51 373.90M80.51 27.70L80.51 29.90M89.45 376.10L89.45 373.90M89.45 27.70L89.45 29.90M98.38 376.10L98.38 373.90M98.38 27.70L98.38 29.90M107.31 376.10L107.31 372.30M107.31 27.70L107.31 31.50M116.24 376.10L116.24 373.90M116.24 27.70L116.24 29.90M125.17 376.10L125.17 373.90M125.17 27.70L125.17 29.90M134.11 376.10L134.11 373.90M134.11 27.70L134.11 29.90M143.04 376.10L143.04 373.90M143.04 27.70L143.04 29.90M151.97 376.10L151.97 372.30M151.97 27.70L151.97 31.50M160.90 376.10L160.90 373.90M160.90 27.70L160.90 29.90M169.83 376.10L169.83 373.90M169.83 27.70L169.83 29.90M178.77 376.10L178.77 373.90M178.77 27.70L178.77 29.90M187.70 376.10L187.70 373.90M187.70 27.70L187.70 29.90M196.63 376.10L196.63 372.30M196.63 27.70L196.63 31.50M205.56 376.10L205.56 373.90M205.56 27.70L205.56 29.90M214.49 376.10L214.49 373.90M214.49 27.70L214.49 29.90M223.43 376.10L223.43 373.90M223.43 27.70L223.43 29.90M232.36 376.10L232.36 373.90M232.36 27.70L232.36 29.90M241.29 376.10L241.29 372.30M241.29 27.70L241.29 31.50M250.22 376.10L250.22 373.90M250.22 27.70L250.22 29.90M259.15 376.10L259.15 373.90M259.15 27.70L259.15 29.90M268.09 376.10L268.09 373.90M268.09 27.70L268.09 29.90M277.02 376.10L277.02 373.90M277.02 27.70L277.02 29.90M285.95 376.10L285.95 372.30M285.95 27.70L285.95 31.50M294.88 376.10L294.88 373.90M294.88 27.70L294.88 29.90M303.81 376.10L303.81 373.90M303.81 27.70L303.81 29.90M312.75 376.10L312.75 373.90M312.75 27.70L312.75 29.90M321.68 376.10L321.68 373.90M321.68 27.70L321.68 29.90M330.61 376.10L330.61 372.30M330.61 27.70L330.61 31.50M339.54 376.10L339.54 373.90M339.54 27.70L339.54 29.90M348.47 376.10L348.47 373.90M348.47 27.70L348.47 29.90M357.41 376.10L357.41 373.90M357.41 27.70L357.41 29.90M366.34 376.10L366.34 373.90M366.34 27.70L366.34 29.90M375.27 376.10L375.27 372.30M375.27 27.70L375.27 31.50M384.20 376.10L384.20 373.90M384.20 27.70L384.20 29.90M393.13 376.10L393.13 373.90M393.13 27.70L393.13 29.90M402.07 376.10L402.07 373.90M402.07 27.70L402.07 29.90M55.70 369.50L59.50 369.50M404.60 369.50L400.80 369.50M55.70 336.89L57.90 336.89M404.60 336.89L402.40 336.89M55.70 317.81L57.90 317.81M404.60 317.81L402.40 317.81M55.70 304.28L57.90 304.28M404.60 304.28L402.40 304.28M55.70 293.78L57.90 293.78M404.60 293.78L402.40 293.78M55.70 285.20L57.90 285.20M404.60 285.20L402.40 285.20M55.70 277.95L57.90 277.95M404.60 277.95L402.40 277.95M55.70 271.67L57.90 271.67M404.60 271.67L402.40 271.67M55.70 266.13L57.90 266.13M404.60 266.13L402.40 266.13M55.70 261.17L59.50 261.17M404.60 261.17L400.80 261.17M55.70 228.56L57.90 228.56M404.60 228.56L402.40 228.56M55.70 209.48L57.90 209.48M404.60 209.48L402.40 209.48M55.70 195.95L57.90 195.95M404.60 195.95L402.40 195.95M55.70 185.45L57.90 185.45M404.60 185.45L402.40 185.45M55.70 176.87L57.90 176.87M404.60 176.87L402.40 176.87M55.70 169.62L57.90 169.62M404.60 169.62L402.40 169.62M55.70 163.34L57.90 163.34M404.60 163.34L402.40 163.34M55.70 157.80L57.90 157.80M404.60 157.80L402.40 157.80M55.70 152.84L59.50 152.84M404.60 152.84L400.80 152.84M55.70 120.23L57.90 120.23M404.60 120.23L402.40 120.23M55.70 101.15L57.90 101.15M404.60 101.15L402.40 101.15M55.70 87.62L57.90 87.62M404.60 87.62L402.40 87.62M55.70 77.12L57.90 77.12M404.60 77.12L402.40 77.12M55.70 68.54L57.90 68.54M404.60 68.54L402.40 68.54M55.70 61.29L57.90 61.29M404.60 61.29L402.40 61.29M55.70 55.01L57.90 55.01M404.60 55.01L402.40 55.01M55.70 49.47L57.90 49.47M404.60 49.47L402.40 49.47M55.70 44.51L59.50 44.51M404.60 44.51L400.80 44.51" stroke="#666" stroke-width="0.5" fill="none"/>
<g class="tk">
<text x="62.4" y="388.8" text-anchor="middle">99.6</text>
<text x="107.1" y="388.8" text-anchor="middle">99.7</text>
<text x="151.8" y="388.8" text-anchor="middle">99.8</text>
<text x="196.4" y="388.8" text-anchor="middle">99.9</text>
<text x="241.1" y="388.8" text-anchor="middle">100.0</text>
<text x="285.8" y="388.8" text-anchor="middle">100.1</text>
<text x="330.4" y="388.8" text-anchor="middle">100.2</text>
<text x="375.1" y="388.8" text-anchor="middle">100.3</text>
<text x="43.5" y="48.5" text-anchor="end">10</text><text x="43.3" y="43.6" style="font-size:7.8px">−1</text>
<text x="43.5" y="156.8" text-anchor="end">10</text><text x="43.3" y="151.9" style="font-size:7.8px">−2</text>
<text x="43.5" y="265.2" text-anchor="end">10</text><text x="43.3" y="260.3" style="font-size:7.8px">−3</text>
<text x="43.5" y="373.5" text-anchor="end">10</text><text x="43.3" y="368.6" style="font-size:7.8px">−4</text>
</g>
<path d="M69.3 44.7H110.9" stroke="#0000ff" stroke-width="2" fill="none"/>
<g fill="#0000ff" stroke="#0000ff" class="lg"><text x="116.5" y="47.9" class="it">v</text><text x="122.6" y="49.7" class="it sub">w</text><text x="132.3" y="47.9">=</text><text x="142.8" y="47.9">0.3</text><text x="159.4" y="47.9">,</text><text x="164.6" y="47.9" class="it">κ</text><text x="170.6" y="49.7" class="it sub">M</text><text x="182.4" y="47.9">=</text><text x="193.5" y="47.9">0</text></g>
<path d="M69.3 65.7H110.9" stroke="#0000ff" stroke-width="2" fill="none" stroke-dasharray="10.7 5.4"/>
<g fill="#0000ff" stroke="#0000ff" class="lg"><text x="116.5" y="68.9" class="it">v</text><text x="122.6" y="70.7" class="it sub">w</text><text x="132.3" y="68.9">=</text><text x="142.8" y="68.9">0.7</text><text x="159.4" y="68.9">,</text><text x="164.6" y="68.9" class="it">κ</text><text x="170.6" y="70.7" class="it sub">M</text><text x="182.4" y="68.9">=</text><text x="193.5" y="68.9">0</text></g>
<path d="M69.3 86.7H109.0" stroke="#0000ff" stroke-width="2" fill="none" stroke-dasharray="3 1.52"/>
<g fill="#0000ff" stroke="#0000ff" class="lg"><text x="116.5" y="89.9" class="it">v</text><text x="122.6" y="91.7" class="it sub">w</text><text x="132.3" y="89.9">=</text><text x="142.8" y="89.9">0.9</text><text x="159.4" y="89.9">,</text><text x="164.6" y="89.9" class="it">κ</text><text x="170.6" y="91.7" class="it sub">M</text><text x="182.4" y="89.9">=</text><text x="193.5" y="89.9">0</text></g>
<path d="M69.3 107.7H110.9" stroke="#ff00ff" stroke-width="2" fill="none"/>
<g fill="#ff00ff" stroke="#ff00ff" class="lg"><text x="116.5" y="110.9" class="it">v</text><text x="122.6" y="112.7" class="it sub">w</text><text x="132.3" y="110.9">=</text><text x="142.8" y="110.9">0.3</text><text x="159.4" y="110.9">,</text><text x="164.6" y="110.9" class="it">κ</text><text x="170.6" y="112.7" class="it sub">M</text><text x="182.4" y="110.9">=</text><text x="193.5" y="110.9">0.9</text></g>
<path d="M69.3 128.7H110.9" stroke="#ff00ff" stroke-width="2" fill="none" stroke-dasharray="10.7 5.4"/>
<g fill="#ff00ff" stroke="#ff00ff" class="lg"><text x="116.5" y="131.9" class="it">v</text><text x="122.6" y="133.7" class="it sub">w</text><text x="132.3" y="131.9">=</text><text x="142.8" y="131.9">0.7</text><text x="159.4" y="131.9">,</text><text x="164.6" y="131.9" class="it">κ</text><text x="170.6" y="133.7" class="it sub">M</text><text x="182.4" y="131.9">=</text><text x="193.5" y="131.9">0.9</text></g>
<path d="M69.3 149.7H109.0" stroke="#ff00ff" stroke-width="2" fill="none" stroke-dasharray="3 1.52"/>
<g fill="#ff00ff" stroke="#ff00ff" class="lg"><text x="116.5" y="152.9" class="it">v</text><text x="122.6" y="154.7" class="it sub">w</text><text x="132.3" y="152.9">=</text><text x="142.8" y="152.9">0.9</text><text x="159.4" y="152.9">,</text><text x="164.6" y="152.9" class="it">κ</text><text x="170.6" y="154.7" class="it sub">M</text><text x="182.4" y="152.9">=</text><text x="193.5" y="152.9">0.9</text></g>
<text class="ser" x="203.9" y="412.5" font-size="16" fill="#000" font-style="italic">T</text><text class="ser" x="215.1" y="412.5" font-size="16" fill="#000">(GeV)</text>
<text class="ser" transform="translate(18.3,218.4) rotate(-90)" font-size="20.2" fill="#000" stroke="#000" stroke-width="0.15"><tspan font-style="italic">HR</tspan><tspan font-size="13.5" dy="5.6" dx="0.2">*</tspan></text>
</svg>
</body></html>
